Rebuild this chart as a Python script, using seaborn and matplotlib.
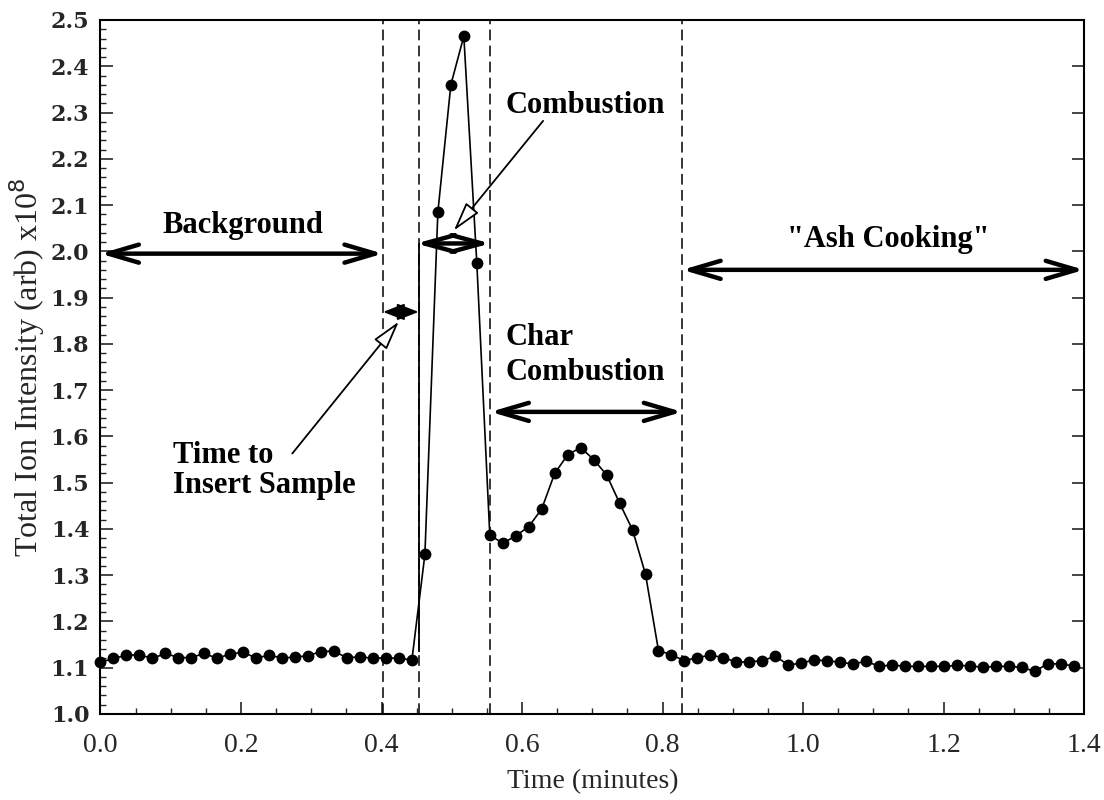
import numpy as np
import pandas as pd
import matplotlib
matplotlib.use("Agg")
import matplotlib.pyplot as plt
import seaborn as sns
from matplotlib.ticker import MultipleLocator, FormatStrFormatter

# Scan interval of the mass spectrometer (minutes per scan)
scan_interval = 0.01847

# Total ion intensity per scan (x10^8, arbitrary units)
background = [1.112, 1.120, 1.127, 1.128, 1.120, 1.131, 1.122, 1.122, 1.131, 1.120,
              1.130, 1.133, 1.121, 1.127, 1.121, 1.123, 1.126, 1.135, 1.136, 1.121,
              1.124, 1.120, 1.122, 1.120, 1.117]
combustion = [1.345, 2.085, 2.360, 2.465, 1.975, 1.387]
char_combustion = [1.369, 1.385, 1.405, 1.443, 1.520, 1.560, 1.576, 1.550, 1.517,
                   1.456, 1.398, 1.302]
ash_cooking = [1.137, 1.128, 1.115, 1.122, 1.127, 1.122, 1.112, 1.113, 1.115, 1.125,
               1.106, 1.110, 1.117, 1.115, 1.112, 1.108, 1.114, 1.103, 1.106, 1.103,
               1.103, 1.103, 1.103, 1.105, 1.104, 1.101, 1.103, 1.103, 1.101, 1.092,
               1.109, 1.108, 1.104]

# Boundaries between the burning stages (minutes)
stage_bounds = [0.402, 0.453, 0.555, 0.828]

intensity = background + combustion + char_combustion + ash_cooking
time = np.arange(len(intensity)) * scan_interval
df = pd.DataFrame({"time": time, "intensity": intensity})

sns.set_style("ticks")
plt.rcParams["font.family"] = ["Liberation Serif", "DejaVu Serif"]

fig = plt.figure(figsize=(11.04, 8.0), dpi=100)
ax = fig.add_axes([0.091, 0.1075, 0.891, 0.8675])

sns.lineplot(data=df, x="time", y="intensity", ax=ax, color="black", linewidth=1.2,
             marker="o", markersize=8.5, markeredgewidth=0, markerfacecolor="black")
for ln in ax.lines:
    ln.set_clip_on(False)

# stage boundaries
for xb in stage_bounds:
    ax.axvline(xb, color="black", lw=1.1, ls=(0, (7, 3.5)), zorder=1)
ax.vlines(stage_bounds[1], 1.135, 2.017, color="black", lw=1.3, zorder=1)

ax.set_xlim(0.0, 1.4)
ax.set_ylim(1.0, 2.5)

ax.xaxis.set_major_locator(MultipleLocator(0.2))
ax.xaxis.set_minor_locator(MultipleLocator(0.05))
ax.yaxis.set_major_locator(MultipleLocator(0.1))
ax.yaxis.set_minor_locator(MultipleLocator(0.02))
ax.xaxis.set_major_formatter(FormatStrFormatter("%.1f"))
ax.yaxis.set_major_formatter(FormatStrFormatter("%.1f"))

ax.tick_params(axis="x", which="major", direction="in", length=9, width=1.2,
               top=False, bottom=True, labelsize=20, pad=14)
ax.tick_params(axis="x", which="minor", direction="in", length=4, width=1.0,
               top=False, bottom=True)
ax.tick_params(axis="y", which="major", direction="in", length=9, width=1.2,
               left=True, right=True, labelsize=16, pad=8)
ax.tick_params(axis="y", which="minor", direction="in", length=4.5, width=1.0,
               left=True, right=False)
for lab in ax.get_yticklabels():
    lab.set_fontfamily("DejaVu Serif")
    lab.set_fontweight("bold")

for sp in ax.spines.values():
    sp.set_visible(True)
    sp.set_linewidth(1.5)
    sp.set_color("black")

ax.set_xlabel("Time (minutes)", fontsize=20, labelpad=8)
ax.set_ylabel("Total Ion Intensity (arb) x10$^{8}$", fontsize=23, labelpad=3)

# stage annotations
bold = dict(fontsize=22, fontweight="bold", color="black")
span = dict(arrowstyle="<->,head_length=2.2,head_width=0.65", lw=3.2, color="black",
            shrinkA=0, shrinkB=0, mutation_scale=10)
pointer = dict(arrowstyle="-|>,head_length=1.8,head_width=0.5", lw=1.3, ec="black",
               fc="white", shrinkA=0, shrinkB=0, mutation_scale=10)

ax.annotate("", xy=(0.0, 1.995), xytext=(stage_bounds[0], 1.995), arrowprops=span,
            annotation_clip=False)
ax.text(0.202, 2.04, "Background", ha="center", va="baseline", **bold)

ax.annotate("", xy=(stage_bounds[0], 1.869), xytext=(stage_bounds[1], 1.869),
            arrowprops=dict(arrowstyle="<|-|>,head_length=1.3,head_width=0.5", lw=1.5,
                            color="black", shrinkA=0, shrinkB=0, mutation_scale=10))
ax.annotate("", xy=(0.4246, 1.848), xytext=(0.273, 1.563), arrowprops=pointer)
ax.text(0.103, 1.542, "Time to", ha="left", va="baseline", **bold)
ax.text(0.103, 1.478, "Insert Sample", ha="left", va="baseline", **bold)

ax.annotate("", xy=(0.449, 2.017), xytext=(stage_bounds[2], 2.017),
            arrowprops=dict(arrowstyle="<->,head_length=2.2,head_width=0.6", lw=3.2,
                            color="black", shrinkA=0, shrinkB=0, mutation_scale=10))
ax.annotate("", xy=(0.503, 2.045), xytext=(0.63, 2.282), arrowprops=pointer)
ax.text(0.577, 2.30, "Combustion", ha="left", va="baseline", **bold)

ax.annotate("", xy=(stage_bounds[2], 1.653), xytext=(stage_bounds[3], 1.653),
            arrowprops=span)
ax.text(0.576, 1.797, "Char", ha="left", va="baseline", **bold)
ax.text(0.576, 1.722, "Combustion", ha="left", va="baseline", **bold)

ax.annotate("", xy=(stage_bounds[3], 1.96), xytext=(1.4, 1.96), arrowprops=span,
            annotation_clip=False)
ax.text(1.121, 2.01, "\"Ash Cooking\"", ha="center", va="baseline", **bold)

fig.savefig("out.png", dpi=100, facecolor="white")
